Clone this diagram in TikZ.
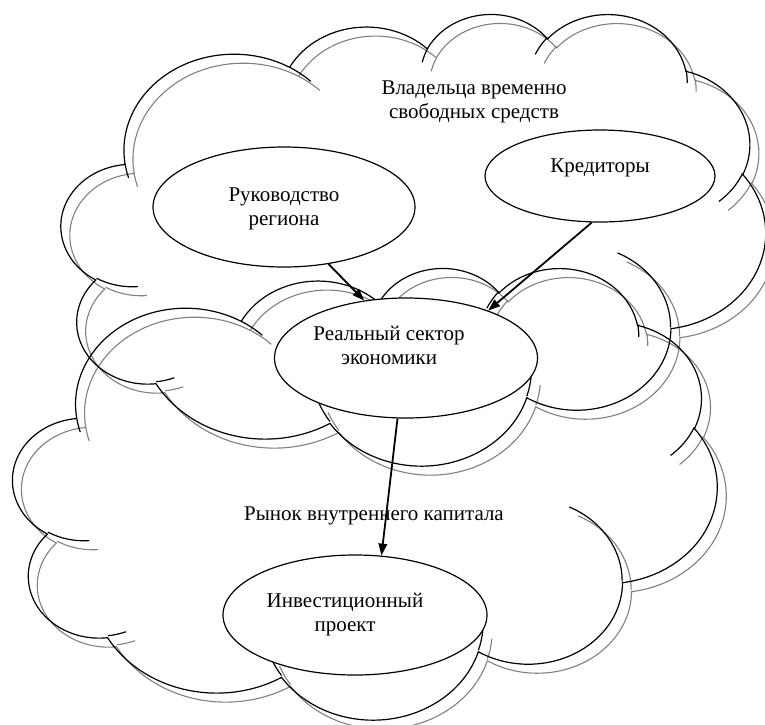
\documentclass[tikz,border=0pt]{standalone}
\usepackage{fontspec}
\setmainfont{Liberation Serif}
\newfontfamily\tnr{Liberation Serif}
\usetikzlibrary{shapes.geometric,arrows.meta}

% convert a visual (OOXML) angle on an ellipse to its parametric angle
\newcommand\cvang[4]{%
  \pgfmathparse{atan2((#2)*sin(#4),(#3)*cos(#4))-(#4)}%
  \let\cvtmp\pgfmathresult
  \pgfmathparse{(#4)+\cvtmp-360*round(\cvtmp/360)}%
  \expandafter\xdef\csname cv#1\endcsname{\pgfmathresult}}
\newcommand\cvarc[5]{\cvang{#1s}{#2}{#3}{#4}\cvang{#1e}{#2}{#3}{(#4)+(#5)}}

\cvarc{A}{6.753}{9.190}{-190.4875}{123.7805}
\cvarc{B}{5.333}{7.267}{-144.1024}{89.9452}
\cvarc{C}{4.365}{5.945}{-145.8079}{99.7230}
\cvarc{D}{4.857}{6.595}{-130.9861}{117.2417}
\cvarc{E}{5.333}{7.273}{-78.7089}{109.0269}
\cvarc{F}{6.775}{9.220}{-46.2673}{130.2690}
\cvarc{G}{5.785}{7.867}{0.6250}{114.0333}
\cvarc{H}{6.752}{9.215}{22.4516}{115.1726}
\cvarc{I}{7.720}{10.543}{66.2426}{75.7110}
\cvarc{J}{4.360}{5.918}{-274.9421}{146.7356}
\cvarc{K}{4.345}{5.945}{-246.8285}{152.5189}
\cvarc{a}{4.345}{5.945}{86.7420}{26.4295}
\cvarc{b}{4.360}{5.918}{73.6105}{11.4475}
\cvarc{c}{6.752}{9.215}{137.6242}{14.0811}
\cvarc{d}{6.752}{9.215}{6.4533}{15.9984}
\cvarc{e}{5.785}{7.867}{-70.2924}{70.9174}
\cvarc{f}{5.333}{7.273}{30.3180}{27.7515}
\cvarc{g}{4.857}{6.595}{-13.7443}{14.8589}
\cvarc{h}{4.857}{6.595}{-149.1815}{18.1954}
\cvarc{i}{4.365}{5.945}{-163.4943}{17.6864}
\cvarc{j}{6.753}{9.190}{-66.7070}{12.3194}
\cvarc{k}{6.753}{9.190}{157.6544}{11.8582}

\newcommand\cloudpath{%
 (3.9,14.37)
 arc[start angle=\cvAs,end angle=\cvAe,x radius=6.753pt,y radius=9.190pt]
 arc[start angle=\cvBs,end angle=\cvBe,x radius=5.333pt,y radius=7.267pt]
 arc[start angle=\cvCs,end angle=\cvCe,x radius=4.365pt,y radius=5.945pt]
 arc[start angle=\cvDs,end angle=\cvDe,x radius=4.857pt,y radius=6.595pt]
 arc[start angle=\cvEs,end angle=\cvEe,x radius=5.333pt,y radius=7.273pt]
 arc[start angle=\cvFs,end angle=\cvFe,x radius=6.775pt,y radius=9.220pt]
 arc[start angle=\cvGs,end angle=\cvGe,x radius=5.785pt,y radius=7.867pt]
 arc[start angle=\cvHs,end angle=\cvHe,x radius=6.752pt,y radius=9.215pt]
 arc[start angle=\cvIs,end angle=\cvIe,x radius=7.720pt,y radius=10.543pt]
 arc[start angle=\cvJs,end angle=\cvJe,x radius=4.360pt,y radius=5.918pt]
 arc[start angle=\cvKs,end angle=\cvKe,x radius=4.345pt,y radius=5.945pt]
 -- cycle
 (4.693,26.177) arc[start angle=\cvas,end angle=\cvae,x radius=4.345pt,y radius=5.945pt]
 (6.928,34.899) arc[start angle=\cvbs,end angle=\cvbe,x radius=4.360pt,y radius=5.918pt]
 (16.478,39.090) arc[start angle=\cvcs,end angle=\cvce,x radius=6.752pt,y radius=9.215pt]
 (28.827,34.751) arc[start angle=\cvds,end angle=\cvde,x radius=6.752pt,y radius=9.215pt]
 (34.129,22.954) arc[start angle=\cves,end angle=\cvee,x radius=5.785pt,y radius=7.867pt]
 (41.798,15.354) arc[start angle=\cvfs,end angle=\cvfe,x radius=5.333pt,y radius=7.273pt]
 (38.324,5.426) arc[start angle=\cvgs,end angle=\cvge,x radius=4.857pt,y radius=6.595pt]
 (29.078,3.952) arc[start angle=\cvhs,end angle=\cvhe,x radius=4.857pt,y radius=6.595pt]
 (22.141,4.720) arc[start angle=\cvis,end angle=\cvie,x radius=4.365pt,y radius=5.945pt]
 (14.000,5.192) arc[start angle=\cvjs,end angle=\cvje,x radius=6.753pt,y radius=9.190pt]
 (4.127,15.789) arc[start angle=\cvks,end angle=\cvke,x radius=6.753pt,y radius=9.190pt]
}

\tikzset{
  cloudscale/.style={xscale=16.2963,yscale=10.4514},
  blackline/.style={draw=black,line width=1.2pt},
  grayline/.style={draw=black!50,line width=1.1pt},
  ell/.style={draw,ellipse,fill=white,line width=1.2pt,inner sep=0pt},
  txt/.style={font=\tnr\fontsize{21}{24}\selectfont,align=center,inner sep=0pt},
  arr/.style={line width=1.8pt,-{Triangle[length=12pt,width=8.5pt]}}
}

\begin{document}
\begin{tikzpicture}[x=1pt,y=1pt,yscale=-1]
\useasboundingbox (0,0) rectangle (765,724);
% shadows
\begin{scope}[shift={(70.4,22)},cloudscale]
  \draw[grayline] \cloudpath;
\end{scope}
\begin{scope}[shift={(22,276)},cloudscale]
  \draw[grayline] \cloudpath;
\end{scope}
% outlines
\begin{scope}[shift={(61.4,13)},cloudscale]
  \draw[blackline] \cloudpath;
\end{scope}
\begin{scope}[shift={(13,267)},cloudscale]
  \draw[blackline] \cloudpath;
\end{scope}

\node[txt] (owners) at (474,102) {Владельца временно\\свободных средств};
\node[txt] (market) at (374,516) {Рынок внутреннего капитала};

\node[ell,minimum width=262pt,minimum height=120pt] (ruk) at (284,207) {};
\node[ell,minimum width=230pt,minimum height=92pt] (kred) at (600,176) {};
\node[ell,minimum width=263pt,minimum height=120pt] (real) at (406,358) {};
\node[ell,minimum width=264pt,minimum height=120pt] (inv) at (355,615) {};

\node[txt] (rukt) at (284,209) {Руководство\\региона};
\node[txt] (kredt) at (600,168) {Кредиторы};
\node[txt] (realt) at (389,345) {Реальный сектор\\экономики};
\node[txt] (invt) at (345,615) {Инвестиционный\\проект};

\draw[arr] (ruk.-52) -- (real.126);
\draw[arr] (kred.-100) -- (real.30);
\draw[arr] (real.-98) -- (inv.66);
\end{tikzpicture}
\end{document}
